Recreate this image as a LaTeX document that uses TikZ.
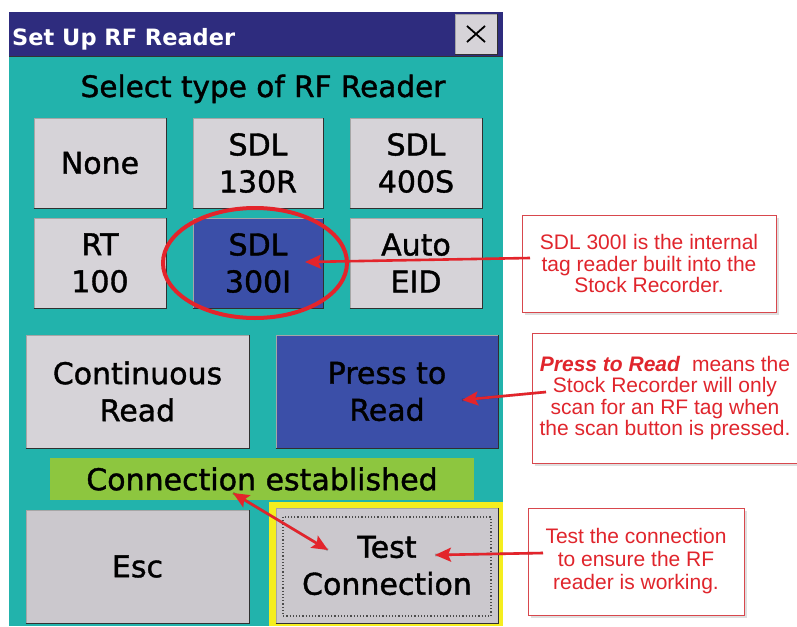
\documentclass[tikz,border=0pt]{standalone}
\usepackage{fontspec}
\setmainfont{Liberation Sans}
\newfontfamily\scrfont[FakeBold=1.3]{DejaVu Sans}
\newfontfamily\scrtitle{DejaVu Sans}
\usetikzlibrary{arrows.meta,shadows}
\definecolor{panelteal}{HTML}{22B3AC}
\definecolor{titlenavy}{HTML}{2E2C7E}
\definecolor{btngray}{HTML}{D6D3D8}
\definecolor{btnblue}{HTML}{3B4FA8}
\definecolor{okgreen}{HTML}{8DC63F}
\definecolor{hiyellow}{HTML}{F5EE1E}
\definecolor{arrowred}{HTML}{E3242B}
\definecolor{notered}{HTML}{E0252C}
\definecolor{noteedge}{HTML}{D8474D}
\definecolor{btndark}{HTML}{303030}
\tikzset{
  btn/.style={draw=gray!70, fill=btngray, line width=0.8pt, inner sep=0pt, align=center,
    text=black, font=\scrfont\fontsize{30}{37}\selectfont},
  selbtn/.style={btn, fill=btnblue},
  note/.style={draw=noteedge, fill=white, line width=0.8pt, align=center, inner sep=0pt,
    text=notered, font=\fontsize{21}{21.5}\selectfont,
    drop shadow={opacity=0.25, shadow xshift=2.5pt, shadow yshift=-2.5pt}},
  redarrow/.style={draw=arrowred, line width=2.6pt,
    -{Stealth[length=16pt,width=14pt,inset=3pt]}},
  redboth/.style={draw=arrowred, line width=2.6pt,
    {Stealth[length=16pt,width=14pt,inset=3pt]}-{Stealth[length=16pt,width=14pt,inset=3pt]}},
  shade/.style={draw=black, opacity=0.22, line width=2.6pt}
}
\begin{document}
\begin{tikzpicture}[x=1pt,y=-1pt]
\useasboundingbox (0,0) rectangle (797,626);
\clip (0,0) rectangle (797,626);
\fill[white] (0,0) rectangle (797,626);
% window
\fill[panelteal] (9,57) rectangle (503,626);
\fill[titlenavy] (9,12) rectangle (503,57);
\draw[black!80, line width=1pt] (9,57) -- (503,57);
\node[anchor=base west, text=white, inner sep=0pt,
  font=\scrtitle\bfseries\fontsize{22.5}{27}\selectfont] (title) at (12,46) {Set Up RF Reader};
\node[btn, minimum width=42, minimum height=40] (close) at (476,34) {};
\draw[btndark, line width=1.5pt] (close.south west) -- (close.south east) -- (close.north east);
\draw[black, line width=1.8pt] ([shift={(-9,-8)}]close.center) -- ([shift={(9,8)}]close.center);
\draw[black, line width=1.8pt] ([shift={(-9,8)}]close.center) -- ([shift={(9,-8)}]close.center);

\node[anchor=base, inner sep=0pt, font=\scrfont\fontsize{29.5}{37}\selectfont] (head) at (263,97) {Select type of RF Reader};

% reader buttons
\node[btn, minimum width=132, minimum height=90] (none) at (100,163) {None};
\node[btn, minimum width=130, minimum height=90] (s130) at (258,163) {SDL\\130R};
\node[btn, minimum width=132, minimum height=90] (s400) at (416,163) {SDL\\400S};
\node[btn, minimum width=132, minimum height=90] (rt100) at (100,263) {RT\\100};
\node[selbtn, minimum width=130, minimum height=90] (s300) at (258,263) {SDL\\300I};
\node[btn, minimum width=132, minimum height=90] (auto) at (416,263) {Auto\\EID};

% mode buttons
\node[btn, minimum width=223, minimum height=113] (cont) at (137.5,391.5) {Continuous\\Read};
\node[selbtn, minimum width=222, minimum height=113] (press) at (387,391.5) {Press to\\Read};

% status
\node[fill=okgreen, minimum width=424, minimum height=42, inner sep=0pt,
  font=\scrfont\fontsize{30}{37}\selectfont] (status) at (262,479) {Connection established};

% bottom buttons
\fill[hiyellow] (269,502) rectangle (503,626);
\node[btn, fill=btngray!95!black, minimum width=223, minimum height=113] (esc) at (137.5,566.5) {Esc};
\node[btn, fill=btngray!95!black, minimum width=222, minimum height=115] (test) at (387,565.5) {Test\\Connection};
\draw[black!70, line width=1.2pt, dotted] (283,517) rectangle (491,616);

\foreach \n in {none,s130,s400,rt100,s300,auto,cont,press,esc,test}
  \draw[btndark, line width=1.6pt] (\n.south west) -- (\n.south east) -- (\n.north east);

% highlight ring
\draw[arrowred, line width=4pt] (255,263) ellipse [x radius=92, y radius=55];

% callouts
\node[note, minimum width=254, minimum height=97] (c1) at (649,263.5)
  {SDL 300I is the internal\\tag reader built into the\\Stock Recorder.};
\node[note, minimum width=266, minimum height=130] (c2) at (665,398)
  {\textbf{\textit{Press to Read}}\ \ means the\\Stock Recorder will only\\scan for an RF tag when\\the scan button is pressed.};
\node[note, font=\fontsize{21}{23}\selectfont, minimum width=216, minimum height=107] (c3) at (636,561.5)
  {Test the connection\\to ensure the RF\\reader is working.};

% arrow ends
\coordinate (a1s) at (530,258);
\coordinate (a1e) at (305,262);
\coordinate (a2s) at (546,392);
\coordinate (a2e) at (462,400);
\coordinate (a3s) at (233,493);
\coordinate (a3e) at (328,550);
\coordinate (a4s) at (543,553);
\coordinate (a4e) at (435,555);

\begin{scope}[shift={(2,2)}]
\draw[shade] (a2s) -- (a2e);
\draw[shade] (a3s) -- (a3e);
\draw[shade] (a4s) -- (a4e);
\end{scope}
\draw[redarrow] (a1s) -- (a1e);
\draw[redarrow] (a2s) -- (a2e);
\draw[redboth] (a3s) -- (a3e);
\draw[redarrow] (a4s) -- (a4e);
\end{tikzpicture}
\end{document}
